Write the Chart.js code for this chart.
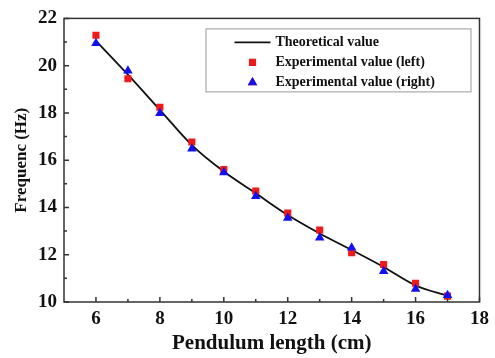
<!DOCTYPE html>
<html>
<head>
<meta charset="utf-8">
<script src="https://cdn.jsdelivr.net/npm/chart.js@4/dist/chart.umd.min.js"></script>
<style>
  html, body { margin: 0; padding: 0; background: #fff; }
  #wrap { width: 495px; height: 358px; }
</style>
</head>
<body>
<div id="wrap"><canvas id="freqChart" width="495" height="358"></canvas></div>
<script>
// pendulum length (cm)
const lengths = [6, 7, 8, 9, 10, 11, 12, 13, 14, 15, 16, 17];
const theoretical = [21.05, 19.62, 18.13, 16.64, 15.52, 14.6, 13.68, 12.9, 12.2, 11.48, 10.7, 10.27];
const expLeft = [21.29, 19.45, 18.24, 16.77, 15.6, 14.7, 13.76, 13.05, 12.09, 11.59, 10.79, 10.25];
const expRight = [20.95, 19.78, 17.99, 16.48, 15.48, 14.47, 13.55, 12.72, 12.3, 11.3, 10.55, 10.29];

const xTicks = [6, 8, 10, 12, 14, 16, 18];
const xMinor = [7, 9, 11, 13, 15, 17];
const yTicks = [10, 12, 14, 16, 18, 20, 22];
const yMinor = [11, 13, 15, 17, 19, 21];

const serif = "'Liberation Serif', 'Times New Roman', serif";

function pts(ys) {
    return lengths.map(function(x, i) { return { x: x, y: ys[i] }; });
}

// inward tick marks + box frame
const framePlugin = {
    id: 'frame',
    afterDraw: function(chart) {
        const ctx = chart.ctx;
        const a = chart.chartArea;
        const xs = chart.scales.x, ys = chart.scales.y;
        ctx.save();
        ctx.strokeStyle = '#333';
        ctx.lineWidth = 1.5;
        ctx.strokeRect(a.left, a.top, a.right - a.left, a.bottom - a.top);
        ctx.beginPath();
        xTicks.forEach(function(v) {
            const px = xs.getPixelForValue(v);
            ctx.moveTo(px, a.bottom); ctx.lineTo(px, a.bottom - 5);
        });
        xMinor.forEach(function(v) {
            const px = xs.getPixelForValue(v);
            ctx.moveTo(px, a.bottom); ctx.lineTo(px, a.bottom - 3);
        });
        yTicks.forEach(function(v) {
            const py = ys.getPixelForValue(v);
            ctx.moveTo(a.left, py); ctx.lineTo(a.left + 5, py);
        });
        yMinor.forEach(function(v) {
            const py = ys.getPixelForValue(v);
            ctx.moveTo(a.left, py); ctx.lineTo(a.left + 3, py);
        });
        ctx.stroke();
        ctx.restore();
    }
};

// legend box drawn inside the plot
const boxLegend = {
    id: 'boxLegend',
    afterDraw: function(chart) {
        const ctx = chart.ctx;
        const a = chart.chartArea;
        const ds = chart.data.datasets;
        const bx = a.right - 274, by = a.top + 10, bw = 265, bh = 63;
        ctx.save();
        ctx.fillStyle = '#fff';
        ctx.fillRect(bx, by, bw, bh);
        ctx.strokeStyle = '#999';
        ctx.lineWidth = 1;
        ctx.strokeRect(bx + 0.5, by + 0.5, bw, bh);
        ctx.font = 'bold 14px ' + serif;
        ctx.textBaseline = 'middle';
        ctx.fillStyle = '#111';
        const rows = [by + 14, by + 34, by + 54];
        // line sample
        ctx.strokeStyle = ds[0].borderColor;
        ctx.lineWidth = 1.8;
        ctx.beginPath();
        ctx.moveTo(bx + 29, rows[0]); ctx.lineTo(bx + 65, rows[0]);
        ctx.stroke();
        // markers
        Chart.helpers.drawPoint(ctx, { pointStyle: 'rect', radius: 5, rotation: 0, borderWidth: 0 }, bx + 47, rows[1]);
        ctx.fillStyle = ds[1].backgroundColor; ctx.fill();
        Chart.helpers.drawPoint(ctx, { pointStyle: 'triangle', radius: 5.5, rotation: 0, borderWidth: 0 }, bx + 47, rows[2]);
        ctx.fillStyle = ds[2].backgroundColor; ctx.fill();
        ctx.fillStyle = '#111';
        ds.forEach(function(d, i) {
            ctx.fillText(d.label, bx + 70, rows[i]);
        });
        ctx.restore();
    }
};

new Chart(document.getElementById('freqChart'), {
    type: 'scatter',
    data: {
        datasets: [
            {
                label: 'Theoretical value',
                data: pts(theoretical),
                showLine: true,
                borderColor: '#111',
                borderWidth: 1.8,
                pointRadius: 0,
                cubicInterpolationMode: 'monotone',
                order: 3
            },
            {
                label: 'Experimental value (left)',
                data: pts(expLeft),
                pointStyle: 'rect',
                pointRadius: 5,
                backgroundColor: '#f01818',
                borderWidth: 0,
                order: 2
            },
            {
                label: 'Experimental value (right)',
                data: pts(expRight),
                pointStyle: 'triangle',
                pointRadius: 5.5,
                backgroundColor: '#1010f0',
                borderWidth: 0,
                order: 1
            }
        ]
    },
    options: {
        responsive: false,
        animation: false,
        layout: { padding: { left: 0, top: 15, right: 12, bottom: 0 } },
        plugins: {
            legend: { display: false },
            tooltip: { enabled: false }
        },
        scales: {
            x: {
                type: 'linear',
                min: 5,
                max: 18,
                afterBuildTicks: function(s) { s.ticks = xTicks.map(function(v) { return { value: v }; }); },
                afterFit: function(s) { s.height = 56; },
                grid: { display: false, drawTicks: false },
                border: { display: false },
                ticks: {
                    padding: 6,
                    color: '#111',
                    font: { family: serif, size: 19, weight: 'bold' }
                },
                title: {
                    display: true,
                    text: 'Pendulum length (cm)',
                    color: '#111',
                    padding: { top: 0, bottom: 2 },
                    font: { family: serif, size: 21, weight: 'bold' }
                }
            },
            y: {
                type: 'linear',
                min: 10,
                max: 22,
                afterBuildTicks: function(s) { s.ticks = yTicks.map(function(v) { return { value: v }; }); },
                afterFit: function(s) { s.width = 64; },
                grid: { display: false, drawTicks: false },
                border: { display: false },
                ticks: {
                    padding: 7,
                    color: '#111',
                    font: { family: serif, size: 19, weight: 'bold' }
                },
                title: {
                    display: true,
                    text: 'Frequenc (Hz)',
                    color: '#111',
                    padding: { top: 11, bottom: 0 },
                    font: { family: serif, size: 17, weight: 'bold' }
                }
            }
        }
    },
    plugins: [framePlugin, boxLegend]
});
</script>
</body>
</html>
